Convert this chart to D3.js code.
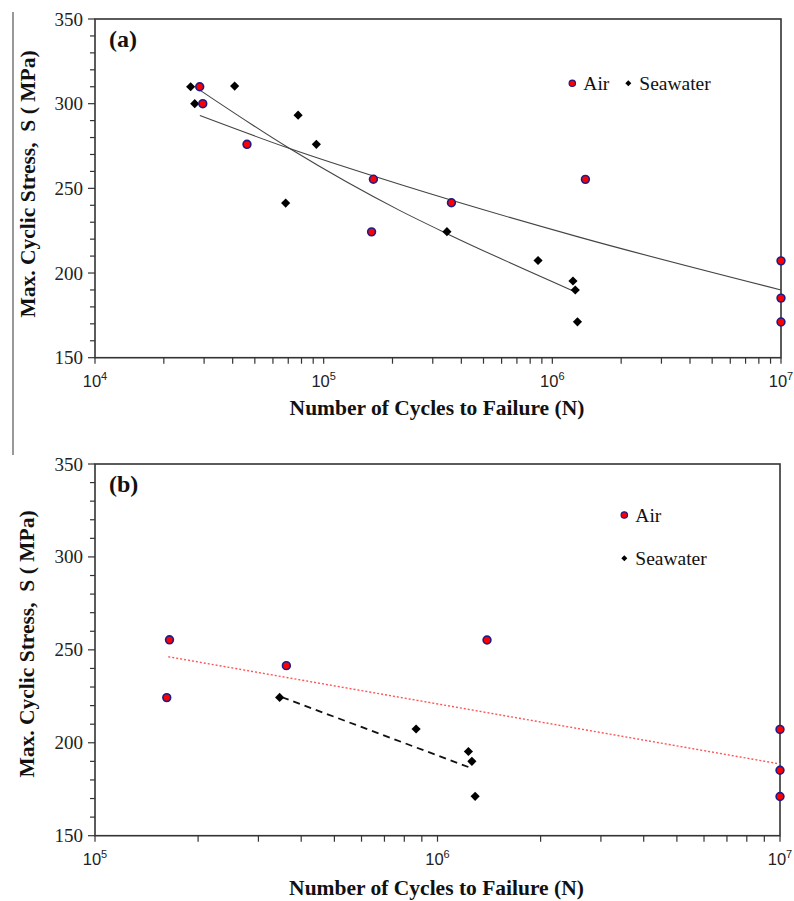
<!doctype html>
<html>
<head>
<meta charset="utf-8" />
<title>S-N curves – air vs seawater</title>
<script src="https://cdn.jsdelivr.net/npm/d3@7"></script>
<style>
  html,body{margin:0;background:#fff}
  svg{display:block}
  .tick-y{font-family:"Liberation Serif",serif;font-size:19px;fill:#222}
  .tick-x{font-family:"Liberation Sans",Arial,sans-serif;font-size:16.5px;fill:#222}
  .title{font-family:"Liberation Serif",serif;font-weight:bold;font-size:21.5px;fill:#111}
  .plab{font-family:"Liberation Serif",serif;font-weight:bold;font-size:24px;fill:#111}
  .leg{font-family:"Liberation Serif",serif;font-size:19.5px;fill:#111}
</style>
</head>
<body>
<svg id="chart" width="794" height="901"></svg>
<script>
// test data
const airN = [28700, 29600, 46200, 165000, 162000, 362000, 1395000, 1e7, 1e7, 1e7];
const airS = [310, 300, 276, 255.4, 224.3, 241.5, 255.3, 207.2, 185.2, 171.1];

const seaN = [26200, 27300, 40800, 77300, 92900, 68200, 346000, 866000, 1231000, 1260000, 1288000];
const seaS = [310, 300, 310.4, 293.2, 276, 241.3, 224.4, 207.4, 195.3, 190, 171.2];

// trend lines as drawn in the figure: [N, S]
const airTrendA = [[28740, 293], [71040, 273.5], [214700, 252.4], [1310000, 221.2], [1e7, 190]];
const seaTrendA = [[28740, 308], [71040, 273.5], [214700, 237], [344400, 223.4], [1227000, 189.6]];
const airTrendB = [[163700, 246.3], [1e7, 188.6]];
const seaTrendB = [[351600, 224.5], [1258000, 186.3]];

const yTicks = [150, 200, 250, 300, 350];

const svg = d3.select('#chart');

// stray crop line at the left of panel (a)
svg.append('line').attr('x1', 13).attr('x2', 13).attr('y1', 12).attr('y2', 455)
  .attr('stroke', '#555').attr('stroke-width', 1.2);

function drawPanel(p){
  const g = svg.append('g');
  const x = d3.scaleLog().domain(p.xDomain).range([p.left, p.right]);
  const y = d3.scaleLinear().domain([150, 350]).range([p.bottom, p.top]);

  // y ticks: major every 50, minor every 10
  const yMinor = d3.range(150, 351, 10);
  g.selectAll('.ym').data(yMinor).join('line')
    .attr('x1', d => d % 50 === 0 ? p.left - 7 : p.left - 5).attr('x2', p.left)
    .attr('y1', d => y(d)).attr('y2', d => y(d))
    .attr('stroke', '#333').attr('stroke-width', 1.2);
  g.selectAll('.yl').data(yTicks).join('text')
    .attr('class', 'tick-y')
    .attr('x', p.left - 12).attr('y', d => y(d))
    .attr('text-anchor', 'end').attr('dominant-baseline', 'central')
    .text(d => d);

  // x ticks: log minors
  const xAll = x.ticks();
  g.selectAll('.xm').data(xAll).join('line')
    .attr('x1', d => x(d)).attr('x2', d => x(d))
    .attr('y1', p.bottom).attr('y2', p.bottom + 6)
    .attr('stroke', '#333').attr('stroke-width', 1.2);
  const decades = xAll.filter(d => Math.abs(Math.log10(d) - Math.round(Math.log10(d))) < 1e-9);
  const xl = g.selectAll('.xl').data(decades).join('text')
    .attr('class', 'tick-x')
    .attr('x', d => x(d)).attr('y', p.bottom + 29)
    .attr('text-anchor', 'middle');
  xl.append('tspan').text('10');
  xl.append('tspan').attr('dy', -7).attr('font-size', 11)
    .text(d => Math.round(Math.log10(d)));

  // frame
  g.append('rect').attr('x', p.left).attr('y', p.top)
    .attr('width', p.right - p.left).attr('height', p.bottom - p.top)
    .attr('fill', 'none').attr('stroke', '#333').attr('stroke-width', 1.6);

  // trend lines
  const line = d3.line().x(d => x(d[0])).y(d => y(d[1])).curve(d3.curveMonotoneX);
  p.trends.forEach(t => {
    g.append('path').datum(t.data).attr('d', line)
      .attr('fill', 'none').attr('stroke', t.color)
      .attr('stroke-width', t.width)
      .attr('stroke-dasharray', t.dash || null);
  });

  // markers
  const air = airN.map((n, i) => [n, airS[i]]).filter(d => d[0] >= p.xDomain[0]);
  const sea = seaN.map((n, i) => [n, seaS[i]]).filter(d => d[0] >= p.xDomain[0]);
  const diamond = d3.symbol().type(d3.symbolSquare).size(42);
  g.selectAll('.sea').data(sea).join('path')
    .attr('d', diamond)
    .attr('transform', d => `translate(${x(d[0])},${y(d[1])}) rotate(45)`)
    .attr('fill', '#000');
  g.selectAll('.air').data(air).join('circle')
    .attr('cx', d => x(d[0])).attr('cy', d => y(d[1])).attr('r', 3.9)
    .attr('fill', '#ff0000').attr('stroke', '#1c1c8a').attr('stroke-width', 1.6);

  // legend
  const L = p.legend;
  g.append('circle').attr('cx', L.air[0]).attr('cy', L.air[1]).attr('r', 3.2)
    .attr('fill', '#ff0000').attr('stroke', '#1c1c8a').attr('stroke-width', 1.2);
  g.append('text').attr('class', 'leg').attr('x', L.air[0] + 11).attr('y', L.air[1] + 6.5).text('Air');
  g.append('path').attr('d', d3.symbol().type(d3.symbolSquare).size(18))
    .attr('transform', `translate(${L.sea[0]},${L.sea[1]}) rotate(45)`).attr('fill', '#000');
  g.append('text').attr('class', 'leg').attr('x', L.sea[0] + 11).attr('y', L.sea[1] + 6.5).text('Seawater');

  // panel label
  g.append('text').attr('class', 'plab').attr('x', p.left + 14).attr('y', p.top + 28).text(p.label);

  // axis titles
  g.append('text').attr('class', 'title')
    .attr('x', (p.left + p.right) / 2 - 1).attr('y', p.xTitleY)
    .attr('text-anchor', 'middle').text('Number of Cycles to Failure (N)');
  g.append('text').attr('class', 'title')
    .attr('transform', `translate(${p.yTitleX},${p.yTitleCy}) rotate(-90)`)
    .attr('text-anchor', 'middle').text('Max. Cyclic Stress,  S ( MPa)')
    .style('white-space', 'pre');
}

drawPanel({
  label: '(a)', left: 95, right: 781, top: 19, bottom: 357.7, xDomain: [1e4, 1e7],
  xTitleY: 415, yTitleX: 35, yTitleCy: 184,
  legend: {air: [572.3, 83.3], sea: [628.3, 83.3]},
  trends: [
    {data: seaTrendA, color: '#444', width: 1.1},
    {data: airTrendA, color: '#444', width: 1.1}
  ]
});

drawPanel({
  label: '(b)', left: 95, right: 780, top: 464, bottom: 835.7, xDomain: [1e5, 1e7],
  xTitleY: 895, yTitleX: 33.5, yTitleCy: 644,
  legend: {air: [624.3, 515], sea: [624.3, 558.3]},
  trends: [
    {data: airTrendB, color: '#ff5555', width: 1.4, dash: '2,2'},
    {data: seaTrendB, color: '#111', width: 1.8, dash: '7,5'}
  ]
});
</script>
</body>
</html>
